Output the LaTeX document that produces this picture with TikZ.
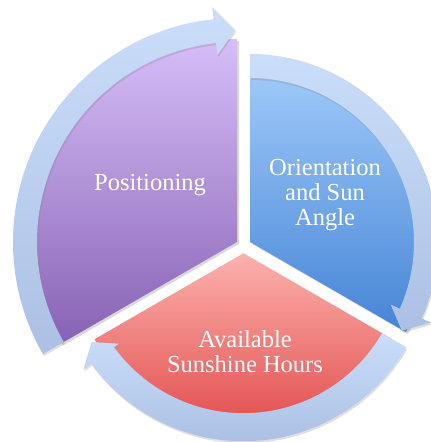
\documentclass[tikz,border=0pt]{standalone}
\usepackage{fontspec}
\setmainfont{Liberation Serif}
\usepackage{xcolor}
\usetikzlibrary{shadows}
\definecolor{purpletop}{RGB}{214, 190, 248}
\definecolor{purplebot}{RGB}{136, 98, 180}
\definecolor{bluetop}{RGB}{162, 204, 250}
\definecolor{bluebot}{RGB}{70, 132, 214}
\definecolor{redtop}{RGB}{252, 178, 174}
\definecolor{redbot}{RGB}{222, 66, 66}
\definecolor{ringtop}{RGB}{202, 222, 250}
\definecolor{ringbot}{RGB}{172, 192, 228}
\tikzstyle{pface} = [
	top color = purpletop,
	bottom color = purplebot,
	drop shadow={shadow xshift=2pt, shadow yshift=-2pt, opacity=0.3}
]
\tikzstyle{bface} = [
	top color = bluetop,
	bottom color = bluebot,
	drop shadow={shadow xshift=2pt, shadow yshift=-2pt, opacity=0.3}
]
\tikzstyle{rface} = [
	top color = redtop,
	bottom color = redbot,
	drop shadow={shadow xshift=2pt, shadow yshift=-2pt, opacity=0.3}
]
\tikzstyle{ringarrow} = [
	top color = ringtop,
	bottom color = ringbot,
	drop shadow={shadow xshift=1pt, shadow yshift=-2pt, opacity=0.25}
]
\tikzstyle{segtext} = [
	text=white,
	align=center,
	inner sep=0pt,
	font=\fontsize{24.5}{25}\selectfont
]

\begin{document}
\begin{tikzpicture}[x=1pt, y=1pt]
	\useasboundingbox (0,0) rectangle (431,442);
	\clip (0,0) rectangle (431,442);
	\coordinate (P) at (237,200);
	\coordinate (B) at (250,200);
	\coordinate (R) at (243.5,188.8);

	% Faces
	\begin{scope}[shift={(P)}]
		\path[pface] (0,0) -- (90:203) arc[start angle=90, end angle=210, radius=203] -- cycle;
	\end{scope}
	\begin{scope}[shift={(B)}]
		\path[bface] (0,0) -- (-30:180) arc[start angle=-30, end angle=90, radius=180] -- cycle;
	\end{scope}
	\begin{scope}[shift={(R)}]
		\path[rface] (0,0) -- (210:172) arc[start angle=210, end angle=330, radius=172] -- cycle;
	\end{scope}

	% Arrows round the faces
	\begin{scope}[shift={(P)}]
		\path[ringarrow] (210:224) arc[start angle=210, end angle=96, radius=224] -- (96:236) -- (90.5:212)
			-- (96:188) -- (96:200) arc[start angle=96, end angle=210, radius=200] -- cycle;
	\end{scope}
	\begin{scope}[shift={(B)}]
		\path[ringarrow] (90:188) arc[start angle=90, end angle=-24, radius=188] -- (-24:198) -- (-30.3:176)
			-- (-24:154) -- (-24:164) arc[start angle=-24, end angle=90, radius=164] -- cycle;
	\end{scope}
	\begin{scope}[shift={(R)}]
		\path[ringarrow] (330:188) arc[start angle=330, end angle=216, radius=188] -- (216:198) -- (210.3:176)
			-- (216:154) -- (216:160) arc[start angle=216, end angle=330, radius=160] -- cycle;
	\end{scope}

	% Texts
	\node[segtext] (pos) at (150,257) {Positioning};
	\node[segtext] (orient) at (325,247) {Orientation\\and Sun\\Angle};
	\node[segtext] (hours) at (245,90) {Available\\Sunshine Hours};

\end{tikzpicture}
\end{document}
